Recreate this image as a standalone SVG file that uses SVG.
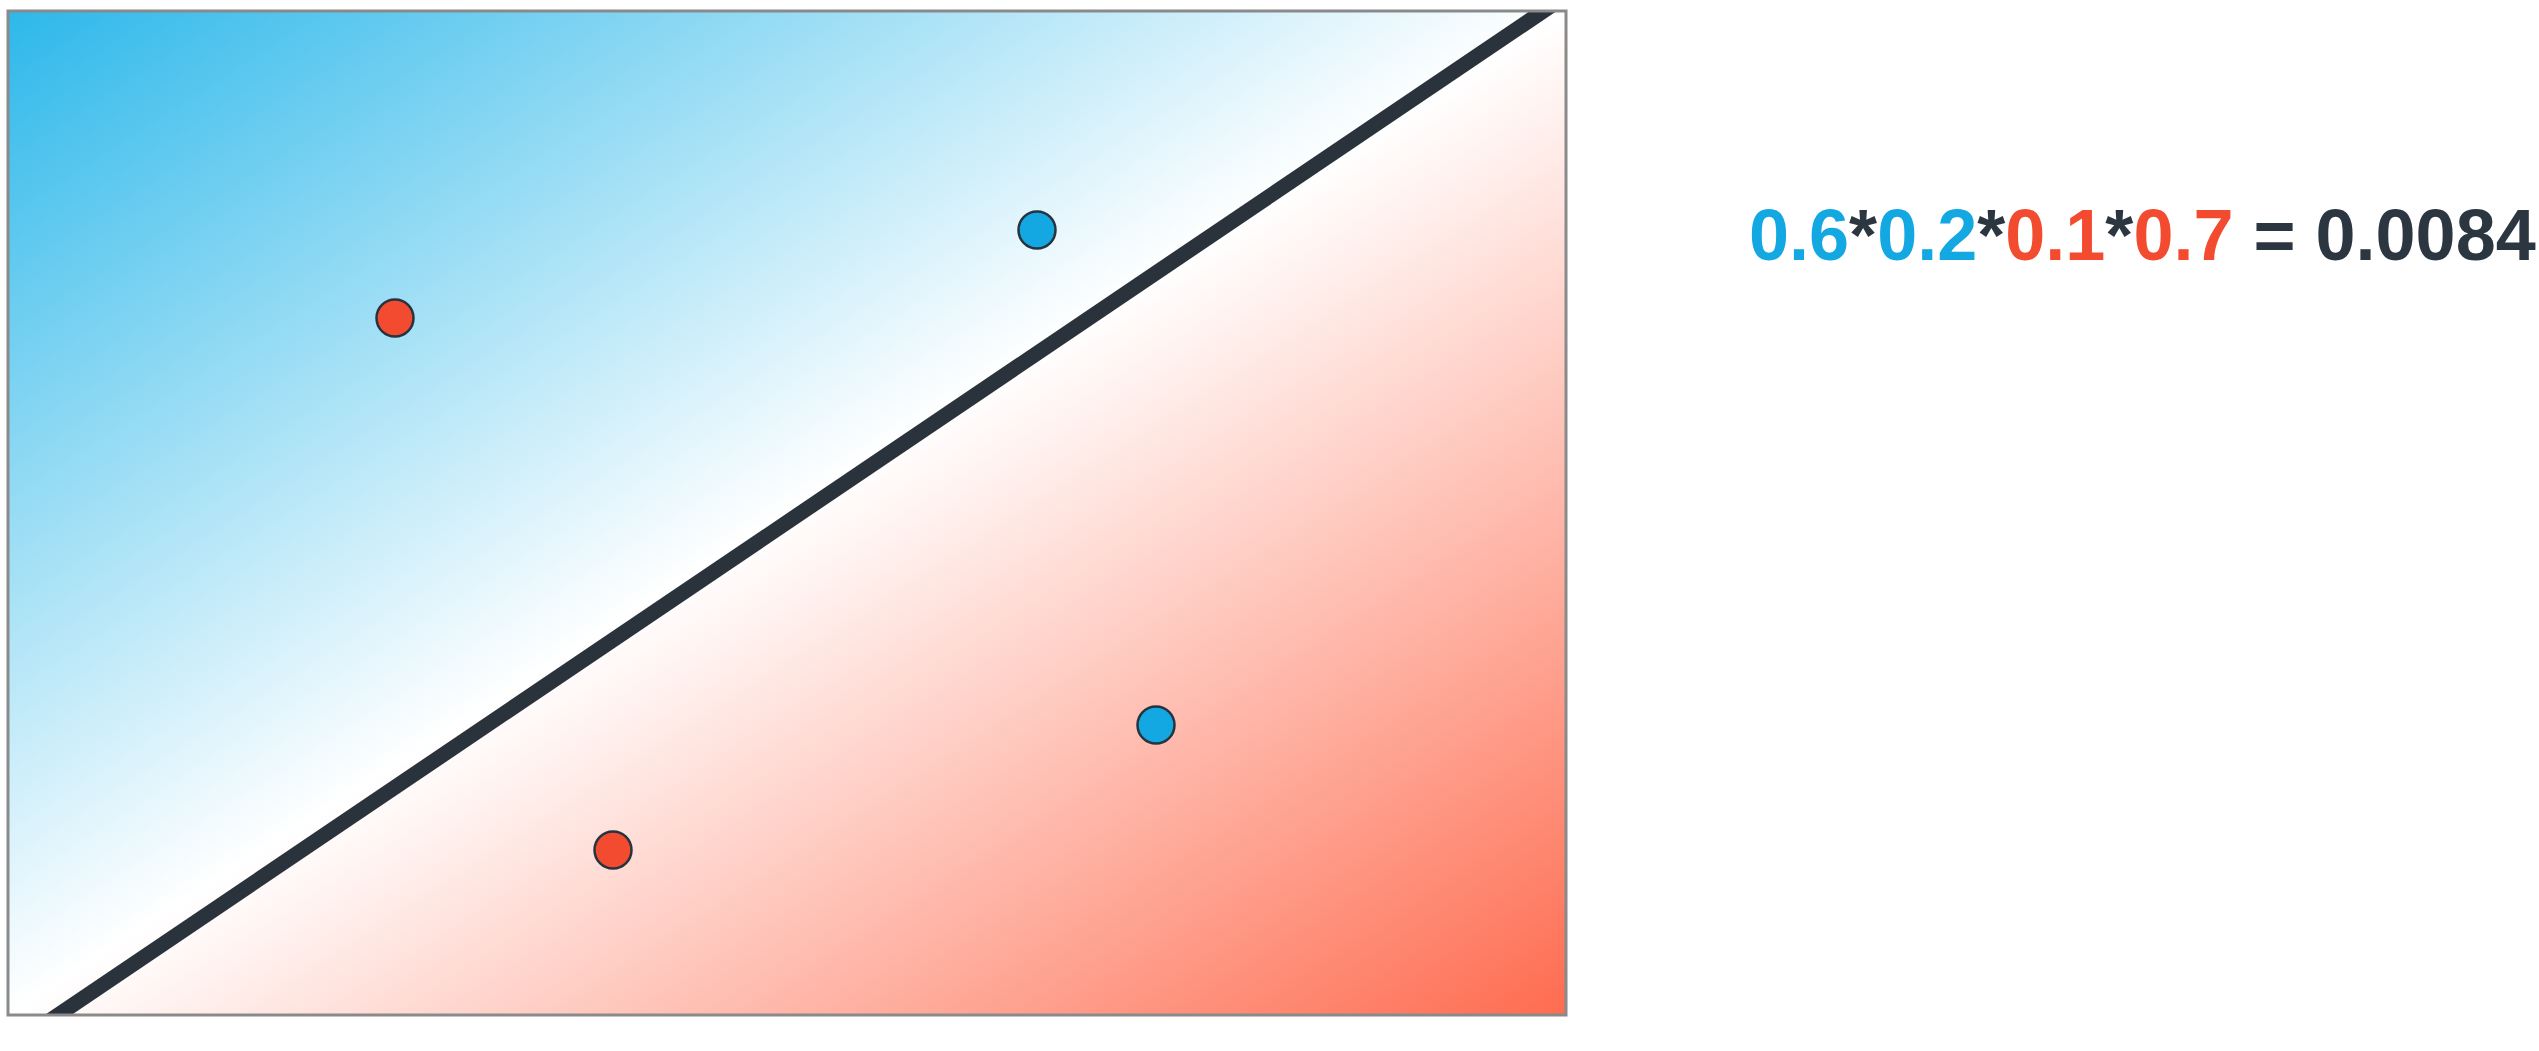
<svg xmlns="http://www.w3.org/2000/svg" width="2539" height="1051" viewBox="0 0 2539 1051">
<defs>
<linearGradient id="bg" x1="0" y1="0" x2="1" y2="1">
<stop offset="0" stop-color="#2DB8EA"/>
<stop offset="0.5" stop-color="#FFFFFF"/>
<stop offset="1" stop-color="#FE6C50"/>
</linearGradient>
<clipPath id="clip"><rect x="8" y="11" width="1558" height="1004"/></clipPath>
<style>
.pt{stroke:#263440;stroke-width:2.5}
.b{fill:#14A8E2}
.r{fill:#F34B30}
.eq{font-family:"Liberation Sans",Arial,sans-serif;font-weight:bold;font-size:72px}
</style>
</defs>
<rect width="2539" height="1051" fill="#ffffff"/>
<g id="plot">
<rect x="8" y="11" width="1558" height="1004" fill="url(#bg)"/>
</g>
<g id="connectors">
<line x1="1573" y1="-9" x2="27" y2="1036" stroke="#2A333B" stroke-width="15" clip-path="url(#clip)"/>
</g>
<g id="frame">
<rect x="8" y="11" width="1558" height="1004" fill="none" stroke="#8a8a8a" stroke-width="3"/>
</g>
<g id="p1"><circle class="pt b" cx="1037" cy="230" r="18.5"/></g>
<g id="p2"><circle class="pt r" cx="395" cy="318" r="18.5"/></g>
<g id="p3"><circle class="pt r" cx="613" cy="850" r="18.5"/></g>
<g id="p4"><circle class="pt b" cx="1156" cy="725" r="18.5"/></g>
<g id="equation">
<text class="eq" x="1749" y="260"><tspan fill="#14A8E2">0.6</tspan><tspan fill="#2B3640">*</tspan><tspan fill="#14A8E2">0.2</tspan><tspan fill="#2B3640">*</tspan><tspan fill="#F34B30">0.1</tspan><tspan fill="#2B3640">*</tspan><tspan fill="#F34B30">0.7</tspan><tspan fill="#2B3640"> = 0.0084</tspan></text>
</g>
</svg>
